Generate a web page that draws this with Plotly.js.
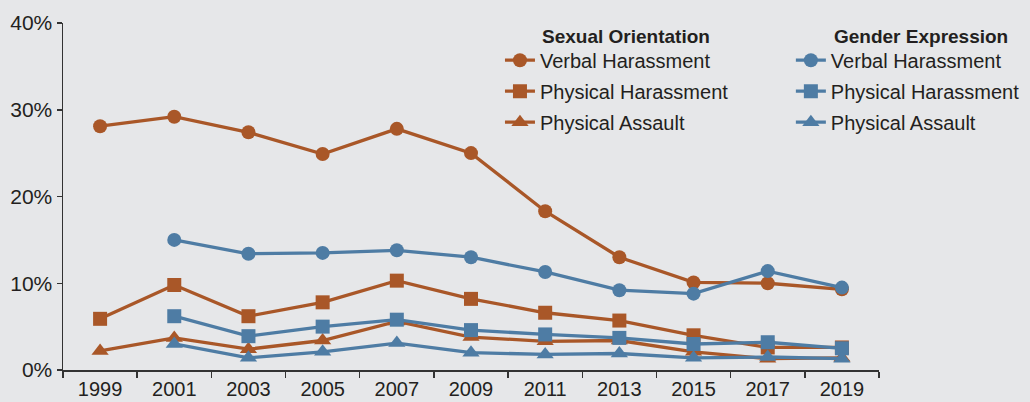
<!DOCTYPE html>
<html>
<head>
<meta charset="utf-8">
<script src="https://cdn.plot.ly/plotly-3.0.1.min.js"></script>
<style>html,body{margin:0;padding:0;background:#e6e7e9;}#chart{width:1030px;height:402px;}</style>
</head>
<body>
<div id="chart"></div>
<script>
const years = [1999, 2001, 2003, 2005, 2007, 2009, 2011, 2013, 2015, 2017, 2019];
const yearsGE = [2001, 2003, 2005, 2007, 2009, 2011, 2013, 2015, 2017, 2019];
const soVerbal = [28.1, 29.2, 27.4, 24.9, 27.8, 25.0, 18.3, 13.0, 10.1, 10.0, 9.3];
const soPhysHar = [5.9, 9.8, 6.2, 7.8, 10.3, 8.2, 6.6, 5.7, 4.0, 2.6, 2.6];
const soPhysAss = [2.2, 3.7, 2.4, 3.4, 5.6, 3.8, 3.3, 3.4, 2.1, 1.3, 1.4];
const geVerbal = [15.0, 13.4, 13.5, 13.8, 13.0, 11.3, 9.2, 8.8, 11.4, 9.5];
const gePhysHar = [6.2, 3.9, 5.0, 5.8, 4.6, 4.1, 3.7, 3.0, 3.2, 2.5];
const gePhysAss = [3.0, 1.4, 2.1, 3.1, 2.0, 1.8, 1.9, 1.4, 1.5, 1.3];
const seriesNames = ['Verbal Harassment', 'Physical Harassment', 'Physical Assault'];
const yTicks = [0, 10, 20, 30, 40];
const yTickText = ['0%', '10%', '20%', '30%', '40%'];
const groupTitles = ['Sexual Orientation', 'Gender Expression'];

const ORANGE = '#a95728';
const BLUE = '#4e7ca4';
const symbols = ['circle', 'square', 'triangle-up'];

function tr(x, y, name, color, sym, legend, grp) {
  return {
    x: x, y: y, name: name, type: 'scatter', mode: 'lines+markers',
    line: {color: color, width: 3.3},
    marker: {color: color, size: sym === 'triangle-up' ? 15 : 14, symbol: sym},
    legend: legend, legendgroup: grp, hoverinfo: 'skip'
  };
}

const data = [
  tr(years, soVerbal, seriesNames[0], ORANGE, symbols[0], 'legend', 'a1'),
  tr(years, soPhysHar, seriesNames[1], ORANGE, symbols[1], 'legend', 'a2'),
  tr(years, soPhysAss, seriesNames[2], ORANGE, symbols[2], 'legend', 'a3'),
  tr(yearsGE, geVerbal, seriesNames[0], BLUE, symbols[0], 'legend2', 'b1'),
  tr(yearsGE, gePhysHar, seriesNames[1], BLUE, symbols[1], 'legend2', 'b2'),
  tr(yearsGE, gePhysAss, seriesNames[2], BLUE, symbols[2], 'legend2', 'b3')
];

const FONT = 'Liberation Sans, Arial, sans-serif';
const TXT = '#231f20';
const legendBase = {
  bgcolor: 'rgba(0,0,0,0)', borderwidth: 0,
  font: {family: FONT, size: 20, color: TXT},
  tracegroupgap: 2, yanchor: 'top', xanchor: 'left', itemclick: false
};

const layout = {
  width: 1030, height: 402,
  paper_bgcolor: '#e6e7e9', plot_bgcolor: '#e6e7e9',
  margin: {l: 63, r: 151, t: 23, b: 32, autoexpand: false},
  font: {family: FONT, size: 20, color: TXT},
  showlegend: true,
  xaxis: {
    range: [1998, 2020], tickvals: years, ticktext: years.map(String),
    ticks: '', showline: true, linecolor: '#333', linewidth: 1.5,
    showgrid: false, zeroline: false, tickfont: {size: 20, color: TXT},
    minor: {tick0: 1998, dtick: 2, ticks: 'outside', ticklen: 6, tickcolor: '#333', tickwidth: 1.5, showgrid: false}
  },
  yaxis: {
    range: [0, 40], tickvals: yTicks, ticktext: yTickText,
    ticks: 'outside', ticklen: 5, tickcolor: '#333', tickwidth: 1.5,
    showline: true, linecolor: '#333', linewidth: 1.5,
    showgrid: false, zeroline: false, tickfont: {size: 21, color: TXT}
  },
  legend: Object.assign({}, legendBase, {x: 0.5355, y: 0.949}),
  legend2: Object.assign({}, legendBase, {x: 0.892, y: 0.949}),
  annotations: [
    {text: '<b>' + groupTitles[0] + '</b>', xref: 'paper', yref: 'paper', x: 0.5846, y: 0.962,
     xanchor: 'left', yanchor: 'middle', showarrow: false, font: {family: FONT, size: 19, color: TXT}},
    {text: '<b>' + groupTitles[1] + '</b>', xref: 'paper', yref: 'paper', x: 0.9424, y: 0.962,
     xanchor: 'left', yanchor: 'middle', showarrow: false, font: {family: FONT, size: 19, color: TXT}}
  ]
};

Plotly.newPlot('chart', data, layout, {displayModeBar: false, staticPlot: true});
</script>
</body>
</html>
